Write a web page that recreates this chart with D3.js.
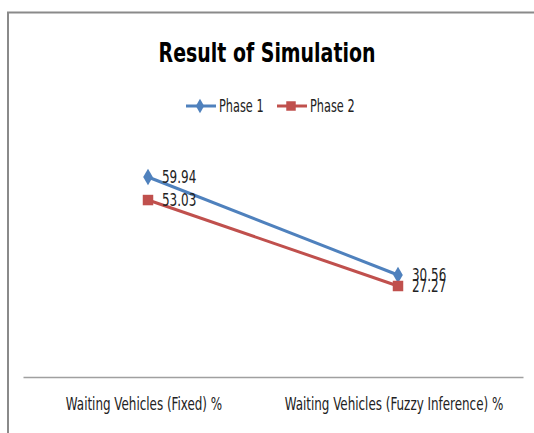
<!DOCTYPE html>
<html>
<head>
<meta charset="utf-8">
<script src="https://cdn.jsdelivr.net/npm/d3@7"></script>
<style>
  html, body { margin: 0; padding: 0; background: #fff; }
  svg { display: block; }
  text { font-family: "DejaVu Sans Condensed", "DejaVu Sans", sans-serif; }
</style>
</head>
<body>
<svg id="chart" width="534" height="433"></svg>
<script>
// data
const categories = ['Waiting Vehicles (Fixed) %', 'Waiting Vehicles (Fuzzy Inference) %']
const seriesNames = ['Phase 1', 'Phase 2']
const phase1 = [59.94, 30.56]
const phase2 = [53.03, 27.27]
const colors = ['#4F81BD', '#C0504D']

const width = 534
const height = 433
const svg = d3.select('#chart')

// the original uses a narrow font, squeeze text horizontally to match
function squeeze(sel, k) {
  sel.each(function () {
    const w = this.getComputedTextLength()
    d3.select(this).attr('textLength', w * k).attr('lengthAdjust', 'spacingAndGlyphs')
  })
}

svg.append('rect').attr('width', width).attr('height', height).attr('fill', '#fff')

// chart area border (cut by the picture edges)
svg.append('path')
  .attr('d', `M8,${height + 2}V12.5H${width + 2}`)
  .attr('fill', 'none')
  .attr('stroke', '#8a8a8a')
  .attr('stroke-width', 2)

const plot = { left: 23, right: 523, bottom: 377 }
const x = d3.scaleBand().domain(categories).range([plot.left, plot.right])
const y = d3.scaleLinear().domain([0, 70]).range([plot.bottom, plot.bottom - 70 * 3.337])

// title
svg.append('text')
  .attr('x', 267)
  .attr('y', 62)
  .attr('text-anchor', 'middle')
  .attr('font-size', 26)
  .attr('font-weight', 'bold')
  .attr('fill', '#000')
  .text('Result of Simulation')
  .call(squeeze, 0.81)

// category axis
const axis = svg.append('g')
  .attr('transform', `translate(-4,${plot.bottom})`)
  .call(d3.axisBottom(x).tickSize(0).tickPadding(21))
axis.select('.domain').attr('stroke', '#a0a0a0').attr('stroke-width', 1.5).attr('transform', 'translate(4,0)')
axis.selectAll('.tick text')
  .attr('font-size', 17)
  .attr('fill', '#222')
  .attr('font-family', '"DejaVu Sans Condensed", "DejaVu Sans", sans-serif')
  .call(squeeze, 0.78)

// series
const series = [phase1, phase2].map((values, i) => ({
  name: seriesNames[i],
  color: colors[i],
  shape: i === 0 ? d3.symbolDiamond : d3.symbolSquare,
  points: values.map((v, j) => ({ cat: categories[j], value: v })),
}))

const line = d3.line()
  .x(d => x(d.cat) + x.bandwidth() / 2)
  .y(d => y(d.value))

const g = svg.append('g')
g.selectAll('path.series')
  .data(series)
  .join('path')
  .attr('class', 'series')
  .attr('fill', 'none')
  .attr('stroke', d => d.color)
  .attr('stroke-width', 3)
  .attr('d', d => line(d.points))

series.forEach(s => {
  g.selectAll(null)
    .data(s.points)
    .join('path')
    .attr('transform', d => `translate(${x(d.cat) + x.bandwidth() / 2},${y(d.value)})`)
    .attr('d', d3.symbol().type(s.shape).size(s.shape === d3.symbolSquare ? 110 : 80))
    .attr('fill', s.color)

  g.selectAll(null)
    .data(s.points)
    .join('text')
    .attr('x', d => x(d.cat) + x.bandwidth() / 2 + 14)
    .attr('y', d => y(d.value))
    .attr('dy', '0.36em')
    .attr('font-size', 17.5)
    .attr('fill', '#222')
    .text(d => d.value.toFixed(2))
    .call(squeeze, 0.76)
})

// legend
const legendX = [186, 277]
const legend = svg.append('g').attr('transform', 'translate(0,106)')
series.forEach((s, i) => {
  const lg = legend.append('g').attr('transform', `translate(${legendX[i]},0)`)
  lg.append('line')
    .attr('x1', 0).attr('x2', 30)
    .attr('stroke', s.color)
    .attr('stroke-width', 3)
  lg.append('path')
    .attr('transform', 'translate(14,0)')
    .attr('d', d3.symbol().type(s.shape).size(s.shape === d3.symbolSquare ? 90 : 60))
    .attr('fill', s.color)
  lg.append('text')
    .attr('x', 33)
    .attr('dy', '0.36em')
    .attr('font-size', 17)
    .attr('fill', '#222')
    .text(s.name)
    .call(squeeze, 0.74)
})
</script>
</body>
</html>
